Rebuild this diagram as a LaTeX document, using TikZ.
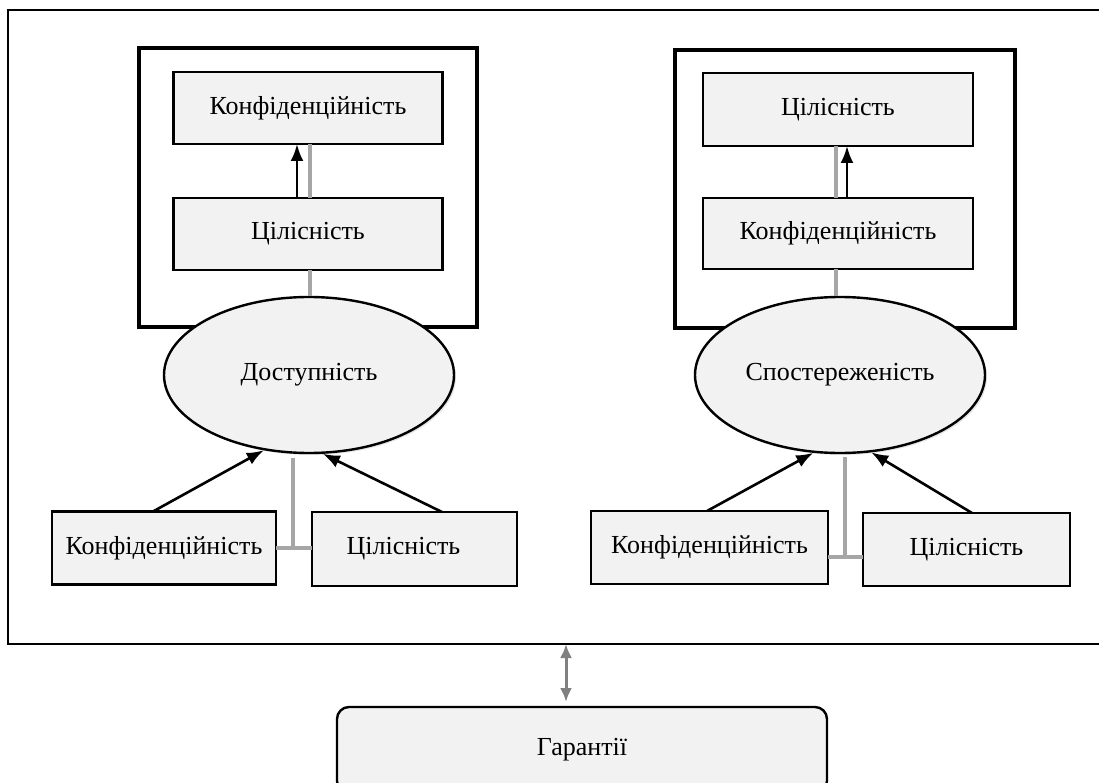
\documentclass[tikz,border=0pt]{standalone}
\usepackage{fontspec}
\setmainfont{Liberation Serif}
\usetikzlibrary{arrows.meta,shapes.geometric,shadows}
\definecolor{boxfill}{HTML}{F2F2F2}
\definecolor{linkgray}{HTML}{A6A6A6}
\definecolor{dblgray}{HTML}{808080}

\begin{document}
\begin{tikzpicture}[x=1pt,y=-1pt,
        font=\fontsize{26}{30}\selectfont,
        box/.style={draw,line width=2.4pt,fill=boxfill,inner sep=0pt,outer sep=0pt},
        oval/.style={ellipse,draw,line width=2.4pt,fill=boxfill,inner sep=0pt,
            minimum width=290pt,minimum height=156pt,
            drop shadow={opacity=0.2,shadow xshift=2pt,shadow yshift=-2pt}},
        frame/.style={line width=4pt},
        link/.style={linkgray,line width=4pt},
        arr/.style={line width=2.6pt,-{Latex[length=17pt,width=13pt]}}]
        \useasboundingbox (0,0) rectangle (1099,783);

        % 1. Outer frame (open on the right)
        \draw[line width=2.6pt] (1105,10) -| (8,644) -- (1105,644);

        % 2. Left group
        \draw[frame] (139,48) rectangle (477,327);
        \node[box,minimum width=269pt,minimum height=72pt] (confL) at (308,108) {Конфіденційність};
        \node[box,minimum width=269pt,minimum height=72pt] (integL) at (308,234) {Цілісність};
        \draw[link] ([xshift=2pt]integL.north) -- ([xshift=2pt]confL.south);
        \draw[arr] ([xshift=-11pt]integL.north) -- ([xshift=-11pt]confL.south);
        \node[oval] (availL) at (309,375) {Доступність};
        \draw[link] ([xshift=2pt]integL.south) -- ([xshift=1pt]availL.north);

        \node[box,minimum width=224pt,minimum height=73pt] (confLb) at (164,548) {Конфіденційність};
        \node[box,minimum width=205pt,minimum height=74pt] (integLb) at (414.5,549) {Цілісність\hspace*{22pt}};
        \draw[arr] ([xshift=-11pt]confLb.north) -- (availL.239);
        \draw[arr] ([xshift=27.5pt]integLb.north) -- (availL.280);
        \coordinate (tL) at (293,458);
        \draw[link] (confLb.east) -- (confLb.east -| integLb.west);
        \draw[link] (tL) -- (tL |- confLb.east);

        % 3. Right group
        \draw[frame] (675,50) rectangle (1015,328);
        \node[box,minimum width=270pt,minimum height=73pt] (integR) at (838,109.5) {Цілісність};
        \node[box,minimum width=270pt,minimum height=71pt] (confR) at (838,233.5) {Конфіденційність};
        \draw[link] ([xshift=-2pt]confR.north) -- ([xshift=-2pt]integR.south);
        \draw[arr] ([xshift=9pt]confR.north) -- ([xshift=9pt]integR.south);
        \node[oval] (obsR) at (840,375) {Спостереженість};
        \draw[link] ([xshift=-2pt]confR.south) -- ([xshift=-4pt]obsR.north);

        \node[box,minimum width=237pt,minimum height=73pt] (confRb) at (709.5,547.5) {Конфіденційність};
        \node[box,minimum width=207pt,minimum height=73pt] (integRb) at (966.5,549.5) {Цілісність};
        \draw[arr] ([xshift=-2.5pt]confRb.north) -- (obsR.251);
        \draw[arr] ([xshift=5.5pt]integRb.north) -- (obsR.292);
        \coordinate (jR) at ([yshift=-9.5pt]confRb.east);
        \coordinate (tR) at (845,457);
        \draw[link] (jR) -- (jR -| integRb.west);
        \draw[link] (tR) -- (tR |- jR);

        % 4. Guarantees
        \node[box,rounded corners=12pt,minimum width=490pt,minimum height=86pt] (guar) at (582,750) {Гарантії};
        \coordinate (gTop) at (566,644);
        \draw[dblgray,line width=3pt,{Latex[length=14pt,width=12pt]}-{Latex[length=14pt,width=12pt]},shorten >=5pt] (gTop) -- (gTop |- guar.north);

    \end{tikzpicture}
\end{document}
